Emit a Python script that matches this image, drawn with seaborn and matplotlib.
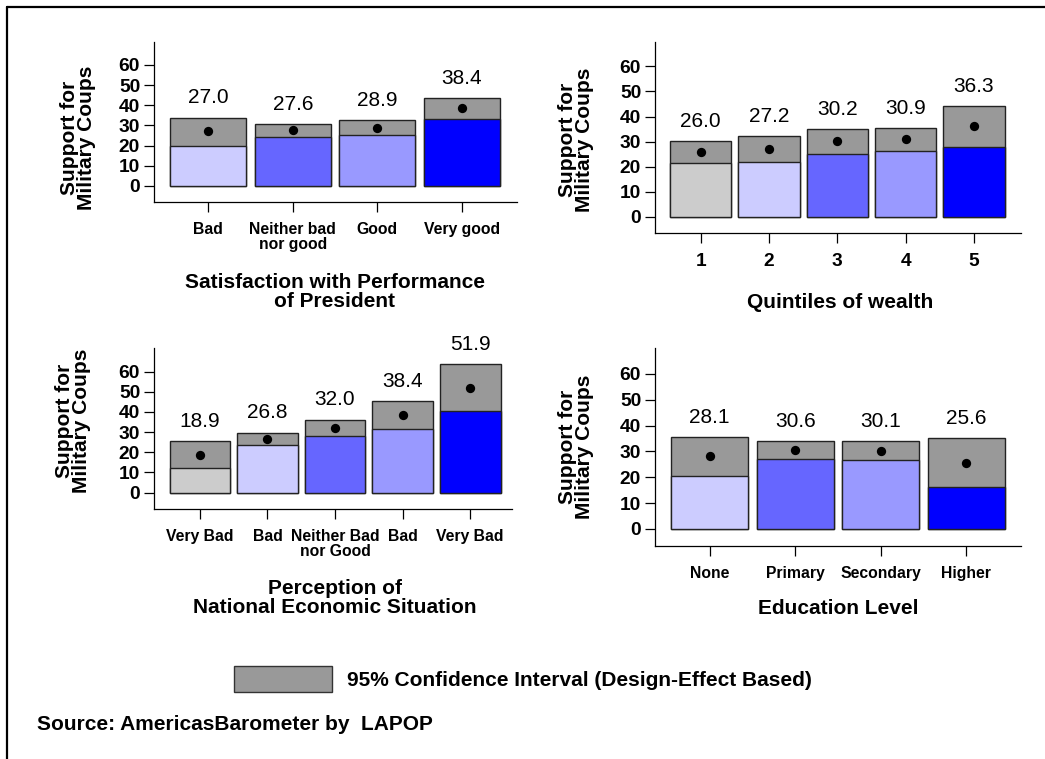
import matplotlib
matplotlib.use("Agg")
import matplotlib.pyplot as plt
import pandas as pd
import seaborn as sns
from matplotlib.patches import Rectangle
from matplotlib.lines import Line2D

sns.set_theme(style="white")
plt.rcParams["font.family"] = ["Liberation Sans", "DejaVu Sans"]
plt.rcParams["text.color"] = "black"
plt.rcParams["axes.labelcolor"] = "black"
plt.rcParams["xtick.color"] = "black"
plt.rcParams["ytick.color"] = "black"

W, H = 1045, 759

# Colours
CI_GREY = "#999999"
EDGE = "#222222"
C_GREY = "#cccccc"
C_LIGHT = "#ccccff"
C_DARK = "#6666ff"
C_MID = "#9999ff"
C_BLUE = "#0000ff"

# Satisfaction with performance of president
pres_labels = ["Bad", "Neither bad\nnor good", "Good", "Very good"]
pres_mean = [27.0, 27.6, 28.9, 38.4]
pres_lo = [20.0, 24.5, 25.3, 33.1]
pres_hi = [33.9, 30.6, 32.6, 43.6]

# Quintiles of wealth
wealth_labels = ["1", "2", "3", "4", "5"]
wealth_mean = [26.0, 27.2, 30.2, 30.9, 36.3]
wealth_lo = [21.6, 22.0, 25.2, 26.2, 28.0]
wealth_hi = [30.1, 32.1, 34.9, 35.3, 44.2]

# Perception of national economic situation
econ_labels = ["Very Bad", "Bad", "Neither Bad\nnor Good", "Bad", "Very Bad"]
econ_mean = [18.9, 26.8, 32.0, 38.4, 51.9]
econ_lo = [12.4, 23.8, 27.9, 31.6, 40.3]
econ_hi = [25.6, 29.8, 36.2, 45.3, 63.6]

# Education level
edu_labels = ["None", "Primary", "Secondary", "Higher"]
edu_mean = [28.1, 30.6, 30.1, 25.6]
edu_lo = [20.6, 27.2, 26.5, 16.4]
edu_hi = [35.4, 33.9, 33.9, 35.0]

y_ticks = [0, 10, 20, 30, 40, 50, 60]
y_title = "Support for\nMilitary Coups"

fig = plt.figure(figsize=(W / 100, H / 100), dpi=100)


def px_box(x0, y0, x1, y1):
    return [x0 / W, 1 - y1 / H, (x1 - x0) / W, (y1 - y0) / H]


def fig_text(x, y, s, **kw):
    fig.text(x / W, 1 - y / H, s, **kw)


def panel(box, labels, means, lo, hi, colors, xlim, ylim, tick_size,
          title, title_xy, ylab_xy):
    ax = fig.add_axes(px_box(*box))
    keys = [f"k{i}" for i in range(len(labels))]
    df = pd.DataFrame({"key": keys, "mean": means, "lo": lo, "hi": hi})

    # Full interval bar in grey, then the lower segment in the group colour
    sns.barplot(data=df, x="key", y="hi", order=keys, color=CI_GREY,
                width=0.9, edgecolor=EDGE, linewidth=1, errorbar=None,
                saturation=1, ax=ax)
    sns.barplot(data=df, x="key", y="lo", order=keys, hue="key",
                hue_order=keys, palette=colors, width=0.9, edgecolor=EDGE,
                linewidth=1, errorbar=None, saturation=1, legend=False, ax=ax)
    sns.stripplot(data=df, x="key", y="mean", order=keys, color="black",
                  size=6.7, jitter=False, linewidth=0, zorder=5, ax=ax)

    for i, (m, h) in enumerate(zip(means, hi)):
        ax.annotate(f"{m:.1f}", (i, h), xytext=(0, 7.5),
                    textcoords="offset points", ha="center", va="bottom",
                    fontsize=15, color="black")

    ax.set_xlim(*xlim)
    ax.set_ylim(*ylim)
    ax.set_xticks(range(len(labels)))
    ax.set_xticklabels(labels, fontsize=tick_size, fontweight="bold",
                       linespacing=1.0)
    ax.set_yticks(y_ticks)
    ax.set_yticklabels([str(t) for t in y_ticks], fontsize=13.8,
                       fontweight="bold")
    ax.tick_params(axis="x", bottom=True, length=7.5, width=0.9, pad=7,
                   color="black")
    ax.tick_params(axis="y", left=True, length=7, width=0.9, pad=3,
                   color="black")
    ax.set_xlabel("")
    ax.set_ylabel("")
    for side in ("top", "right"):
        ax.spines[side].set_visible(False)
    for side in ("left", "bottom"):
        ax.spines[side].set_color("black")
        ax.spines[side].set_linewidth(0.9)
    ax.patch.set_alpha(0)

    fig_text(*title_xy, title, ha="center", va="center", fontsize=15,
             fontweight="bold", linespacing=1.0)
    fig_text(*ylab_xy, y_title, ha="center", va="center", rotation=90,
             fontsize=15, fontweight="bold", linespacing=0.92)
    return ax


panel((154, 42, 517, 202), pres_labels, pres_mean, pres_lo, pres_hi,
      [C_LIGHT, C_DARK, C_MID, C_BLUE], (-0.64, 3.65), (-8, 71.4), 11.3,
      "Satisfaction with Performance\nof President", (335, 292), (78, 138))

panel((655, 42, 1021, 233), wealth_labels, wealth_mean, wealth_lo, wealth_hi,
      [C_GREY, C_LIGHT, C_DARK, C_MID, C_BLUE], (-0.67, 4.69), (-6.4, 69.7),
      13.8, "Quintiles of wealth", (840, 302), (576, 140))

panel((154, 348, 512, 509), econ_labels, econ_mean, econ_lo, econ_hi,
      [C_GREY, C_LIGHT, C_DARK, C_MID, C_BLUE], (-0.68, 4.62), (-8.1, 71.7),
      11.3, "Perception of\nNational Economic Situation", (335, 598), (73, 421))

panel((655, 348, 1021, 546), edu_labels, edu_mean, edu_lo, edu_hi,
      [C_LIGHT, C_DARK, C_MID, C_BLUE], (-0.64, 3.64), (-6.6, 70.0), 11.3,
      "Education Level", (838, 608), (576, 447))

# Legend for the interval shading
fig.add_artist(Rectangle((234 / W, 1 - 692 / H), 98 / W, 26 / H,
                         transform=fig.transFigure, facecolor=CI_GREY,
                         edgecolor="#333333", linewidth=1))
fig_text(347, 680, "95% Confidence Interval (Design-Effect Based)",
         ha="left", va="center", fontsize=15, fontweight="bold")

fig_text(37, 724, "Source: AmericasBarometer by  LAPOP", ha="left",
         va="center", fontsize=15, fontweight="bold")

# Outer frame (top and left edges)
fig.add_artist(Line2D([7 / W, 7 / W], [0, 1 - 7 / H], transform=fig.transFigure,
                      color="black", linewidth=1.6))
fig.add_artist(Line2D([7 / W, 1], [1 - 7 / H, 1 - 7 / H],
                      transform=fig.transFigure, color="black", linewidth=1.6))

fig.savefig("out.png", dpi=100, facecolor="white")
